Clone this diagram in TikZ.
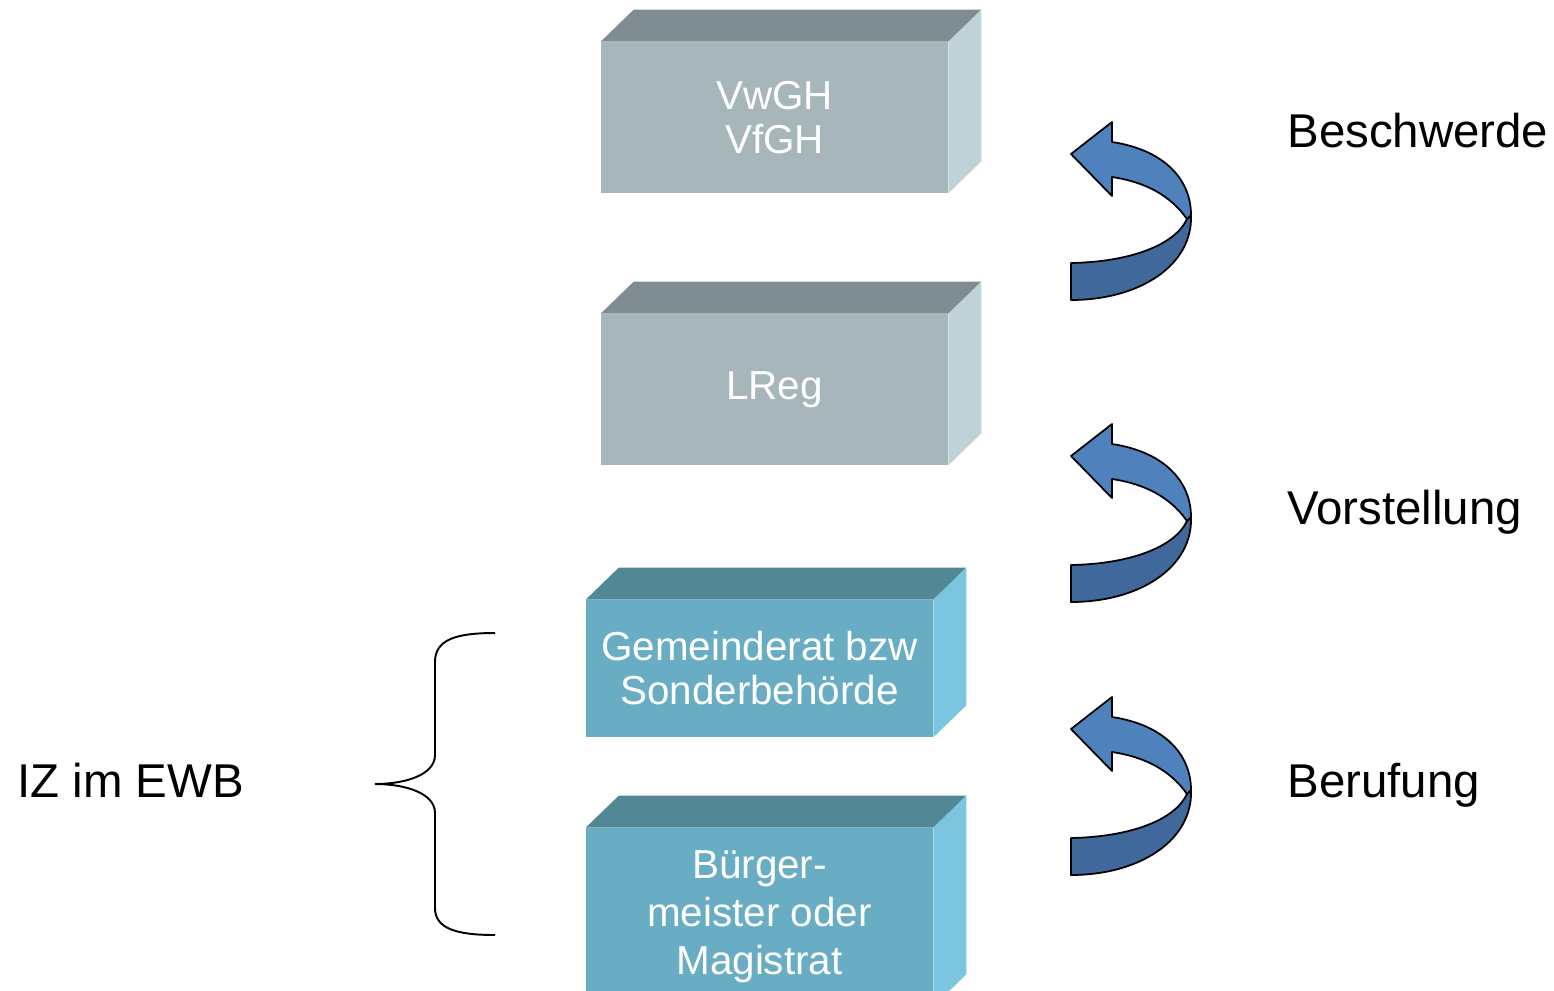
\documentclass[tikz,border=0pt]{standalone}
\usepackage{fontspec}
\setmainfont{Liberation Sans}
\usetikzlibrary{calc,positioning}
\definecolor{grayfront}{HTML}{A6B6BA}
\definecolor{graytop}{HTML}{7F8C91}
\definecolor{grayside}{HTML}{BED2D8}
\definecolor{tealfront}{HTML}{69ADC4}
\definecolor{tealtop}{HTML}{528795}
\definecolor{tealside}{HTML}{7BC6DE}
\definecolor{arrowlight}{HTML}{4F81BD}
\definecolor{arrowdark}{HTML}{41689A}

\begin{document}
\begin{tikzpicture}[x=0.02cm,y=-0.02cm,
  blockface/.style={inner sep=0pt,minimum width=6.94cm,align=center,text=white,
    font=\fontsize{23}{25}\selectfont},
  sidelabel/.style={anchor=base west,inner sep=0pt,font=\fontsize{27}{32}\selectfont},
  turnline/.style={draw=black,line width=1pt,line join=round}]
\useasboundingbox (0,0) rectangle (1554,990);

% front faces of the blocks
\node[blockface,fill=grayfront,minimum height=3.02cm] (vwgh) at (774.5,117.5) {VwGH\\VfGH};
\node[blockface,fill=grayfront,minimum height=3.02cm] (lreg) at (774.5,389.5) {LReg};
\node[blockface,fill=tealfront,minimum height=2.74cm] (gemrat) at (759.5,668.5) {Gemeinderat bzw\\Sonderbehörde};
\node[blockface,fill=tealfront,minimum height=3.56cm,font=\fontsize{23}{27.3}\selectfont] (bgm) at (759.5,917) {Bürger-\\meister oder\\Magistrat};

% top and side faces
\foreach \blk/\tcol/\scol in {vwgh/graytop/grayside,lreg/graytop/grayside,gemrat/tealtop/tealside,bgm/tealtop/tealside}
{
\fill[\tcol] (\blk.north west) -- ++(33,-32) -- ($(\blk.north east)+(33,-32)$) -- (\blk.north east) -- cycle;
\fill[\scol] (\blk.north east) -- ++(33,-32) -- ($(\blk.south east)+(33,-32)$) -- (\blk.south east) -- cycle;
}

% the turning arrows
\foreach \oy in {0,302,575}
{
\begin{scope}[shift={(0,\oy)}]
\filldraw[turnline,fill=arrowdark] (1191,215) .. controls (1193,265) and (1140,300) .. (1071,300)
  -- (1071,263) .. controls (1130,262) and (1175,245) .. (1187,219) -- cycle;
\filldraw[turnline,fill=arrowlight] (1112,142) .. controls (1165,150) and (1191,180) .. (1191,215)
  -- (1187,219) .. controls (1170,195) and (1145,182) .. (1112,177)
  -- (1112,196) -- (1071,154) -- (1112,122) -- cycle;
\end{scope}
}

% labels
\node[sidelabel] (beschw) at (1287,147) {Beschwerde};
\node[sidelabel] (vorst) at (1287,524) {Vorstellung};
\node[sidelabel] (beruf) at (1287,797) {Berufung};
\node[sidelabel] (izewb) at (17,797) {IZ im EWB};

% brace
\coordinate (brtop) at (495,633);
\coordinate (brtip) at (375,784);
\coordinate (brbot) at (495,935);
\draw[line width=1.1pt] (brtop) .. controls (455,633) and (435,640) .. (435,662) -- (435,755)
  .. controls (435,775) and (405,784) .. (brtip) .. controls (405,784) and (435,793) .. (435,813)
  -- (435,908) .. controls (435,928) and (455,935) .. (brbot);
\end{tikzpicture}
\end{document}
